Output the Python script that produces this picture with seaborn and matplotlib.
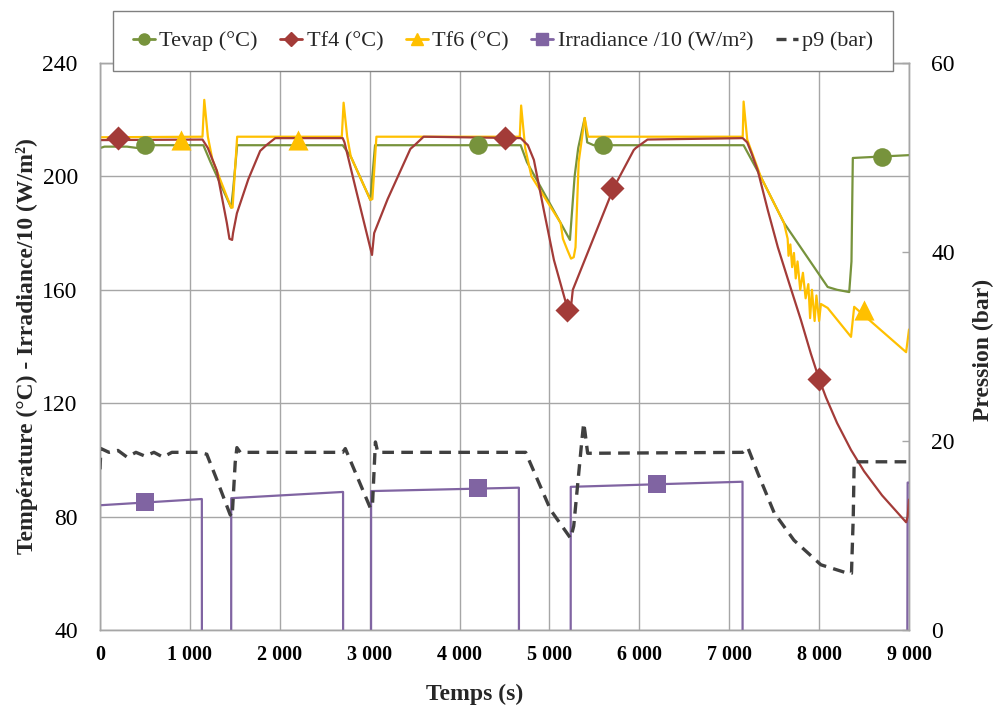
import matplotlib
matplotlib.use("Agg")
import matplotlib.pyplot as plt
import seaborn as sns
import pandas as pd
from matplotlib.lines import Line2D

sns.set_theme(style="white")
plt.rcParams['font.family'] = ['Liberation Serif', 'DejaVu Serif']

# ---------------- data ----------------
tevap_t = [0, 50, 300, 420, 600, 1150, 1230, 1459, 1480, 1526, 1560, 2700, 2790, 3008, 3030, 3060, 3110,
           4680, 4750, 5124, 5228, 5280, 5320, 5392, 5420, 5492, 7160, 7352, 7609, 8095, 8200, 8335,
           8360, 8375, 9000]
tevap_v = [210, 210.5, 210.5, 210, 211, 211, 205, 189, 195, 211, 211, 211, 207, 191.7, 200, 211, 211,
           211, 205, 183.6, 177.6, 200, 210, 220.6, 212, 211, 211, 199.8, 183.6, 161, 160, 159.2,
           170, 206.5, 207.5]

tf4_t = [0, 1140, 1200, 1300, 1411, 1440, 1470, 1480, 1523, 1650, 1782, 1850, 1950, 2700, 2720, 2850,
         3026, 3050, 3200, 3453, 3500, 3600, 4680, 4760, 4827, 4938, 5050, 5199, 5236, 5260, 5500,
         5715, 5938, 5960, 6091, 7150, 7200, 7250, 7318, 7430, 7541, 7670, 7797, 7908, 8000, 8077,
         8200, 8355, 8500, 8700, 8968, 8985, 9000]
tf4_v = [212.8, 213, 210, 202, 183.6, 178, 177.6, 180, 187, 199, 209, 211, 213.5, 213.5, 212, 195,
         172.3, 180, 192, 209.7, 211, 214, 213.5, 211, 205.8, 188, 170.5, 153.6, 152.9, 160, 179,
         196, 209.3, 210, 213, 213.5, 212, 208, 202, 188, 175, 162, 149.4, 137.5, 128.5, 122,
         113, 103.5, 96, 87.5, 78, 80, 86]

tf6_t = [0, 1140, 1160, 1200, 1250, 1459, 1475, 1526, 1560, 2690, 2710, 2750, 2790, 3008, 3030, 3075,
         3110, 4670, 4685, 4730, 4800, 5124, 5150, 5200, 5240, 5270, 5290, 5325, 5392, 5430, 5570,
         7150, 7160, 7200, 7352, 7609, 7650, 7660, 7680, 7700, 7720, 7740, 7760, 7790, 7820, 7850,
         7880, 7900, 7920, 7950, 7970, 8000, 8020, 8095, 8355, 8390, 8968, 9000]
tf6_v = [213.8, 214, 227, 214, 206, 189, 189, 214, 214, 214, 226, 214, 207, 191.7, 192, 214,
         214, 214, 225, 210, 200, 183.6, 178, 174, 171, 171.5, 175, 205, 220.6, 214, 214,
         214, 226.4, 213, 199.8, 183.6, 178, 172, 176, 168, 173, 164, 170, 160, 166, 157,
         162, 150, 160, 149, 158, 149, 155, 153.6, 143.4, 154, 138, 146]

irr_t = [0, 1133, 1134, 1459, 1460, 2704, 2705, 3015, 3016, 4660, 4661, 5236, 5237, 7148, 7149,
         8979, 8985, 9000]
irr_v = [84, 86.2, 0, 0, 86.5, 88.7, 0, 0, 89, 90.2, 0, 0, 90.5, 92.3, 0, 0, 92, 92]

p9_t = [0, 10, 100, 200, 300, 400, 500, 600, 700, 800, 1100, 1188, 1300, 1448, 1470, 1504, 1523, 1560,
        2700, 2729, 3008, 3030, 3064, 3090, 4713, 4735, 5013, 5236, 5270, 5360, 5381, 5395, 5425,
        7150, 7207, 7318, 7500, 7720, 8020, 8320, 8360, 8380, 8390, 9000]
p9_v = [17, 19.2, 18.8, 19, 18.3, 18.8, 18.4, 18.8, 18.3, 18.8, 18.8, 18.6, 15.9, 12.2, 12, 17.7, 19.3, 18.8,
        18.8, 19.2, 12.9, 13, 19.9, 18.8, 18.8, 18.8, 12.7, 9.7, 11, 20, 21.9, 21, 18.7,
        18.8, 19.3, 16.6, 12.4, 9.5, 6.9, 6.0, 6, 12, 17.8, 17.8]

# marker positions
tevap_mk_t = [500, 4200, 5600, 8700]
tevap_mk_v = [211, 211, 211, 207]
tf4_mk_t = [200, 4500, 5200, 5700, 8000]
tf4_mk_v = [213.5, 213.5, 153, 196, 128.5]
tf6_mk_t = [900, 2200, 8500]
tf6_mk_v = [213, 213, 153]
irr_mk_t = [500, 4200, 6200]
irr_mk_v = [85, 90, 91.5]

x_ticks = [0, 1000, 2000, 3000, 4000, 5000, 6000, 7000, 8000, 9000]
x_labels = ["0", "1 000", "2 000", "3 000", "4 000", "5 000", "6 000", "7 000", "8 000", "9 000"]
y_ticks = [40, 80, 120, 160, 200, 240]
y2_ticks = [0, 20, 40, 60]

names = ["Tevap (°C)", "Tf4 (°C)", "Tf6 (°C)", "Irradiance /10 (W/m²)", "p9 (bar)"]
colors = ["#77933C", "#A33B38", "#FFC000", "#8064A2", "#404040"]

# ---------------- figure ----------------
fig = plt.figure(figsize=(9.97, 7.11), dpi=100)
ax = fig.add_axes([100/997, 1-630/711, 809/997, 567/711])
ax2 = ax.twinx()

lw = 1.6
sns.lineplot(x=tevap_t, y=tevap_v, ax=ax, color=colors[0], lw=lw, sort=False, estimator=None, zorder=3)
sns.lineplot(x=tf4_t, y=tf4_v, ax=ax, color=colors[1], lw=lw, sort=False, estimator=None, zorder=4)
sns.lineplot(x=tf6_t, y=tf6_v, ax=ax, color=colors[2], lw=lw, sort=False, estimator=None, zorder=3.5)
sns.lineplot(x=irr_t, y=irr_v, ax=ax, color=colors[3], lw=lw, sort=False, estimator=None, zorder=3)

ms = 150
sns.scatterplot(x=tevap_mk_t, y=tevap_mk_v, ax=ax, color=colors[0], marker='o', s=ms*1.2, linewidth=0, zorder=5)
sns.scatterplot(x=tf4_mk_t, y=tf4_mk_v, ax=ax, color=colors[1], marker='D', s=ms*1.0, linewidth=0, zorder=5)
sns.scatterplot(x=tf6_mk_t, y=tf6_mk_v, ax=ax, color=colors[2], marker='^', s=ms*1.4, linewidth=0, zorder=5)
sns.scatterplot(x=irr_mk_t, y=irr_mk_v, ax=ax, color=colors[3], marker='s', s=ms*1.1, linewidth=0, zorder=5)

sns.lineplot(x=p9_t, y=p9_v, ax=ax2, color=colors[4], lw=2.4, sort=False, estimator=None)
ax2.lines[-1].set_dashes([3.5, 2.2])

ax.set_xlim(0, 9000)
ax.set_ylim(40, 240)
ax2.set_ylim(0, 60)
ax.set_xticks(x_ticks)
ax.set_xticklabels(x_labels, fontsize=14.5, fontweight='bold')
ax.set_yticks(y_ticks)
ax.set_yticklabels([str(v) for v in y_ticks], fontsize=17)
ax2.set_yticks(y2_ticks)
ax2.set_yticklabels([str(v) for v in y2_ticks], fontsize=17)
ax.tick_params(axis='x', length=0, pad=11, colors='black')
ax.tick_params(axis='y', length=0, pad=16, colors='black')
ax2.tick_params(axis='y', direction='in', length=5, width=1, color='#A6A6A6', pad=16, labelcolor='black')

ax.grid(True, color='#A6A6A6', lw=1)
for sp in list(ax.spines.values()) + list(ax2.spines.values()):
    sp.set_color('#A6A6A6')
    sp.set_linewidth(1)
ax.set_xlabel("")
ax.set_ylabel("")
ax2.set_ylabel("")

fig.text(27/997, 1-346/711, "Température (°C) - Irradiance/10 (W/m²)", rotation=90,
         ha='center', va='center', fontsize=17, fontweight='bold')
fig.text(983/997, 1-350/711, "Pression (bar)", rotation=90,
         ha='center', va='center', fontsize=17, fontweight='bold')
fig.text(475/997, 1-694/711, "Temps (s)", ha='center', va='center', fontsize=17, fontweight='bold')

handles = [
    Line2D([], [], color=colors[0], lw=2, marker='o', ms=8),
    Line2D([], [], color=colors[1], lw=2, marker='D', ms=7),
    Line2D([], [], color=colors[2], lw=2, marker='^', ms=9),
    Line2D([], [], color=colors[3], lw=2, marker='s', ms=8),
    Line2D([], [], color=colors[4], lw=2.4, ls=(0, (3, 2))),
]
leg = fig.legend(handles, names, loc='center', bbox_to_anchor=(503/997, 1-41/711), ncol=5,
                 fontsize=16, frameon=True, fancybox=False, edgecolor='#808080', framealpha=1,
                 handlelength=1.0, handletextpad=0.2, columnspacing=1.0, borderpad=0.9)
leg.get_frame().set_linewidth(1)
leg.set_zorder(10)

fig.savefig("out.png", dpi=100)
